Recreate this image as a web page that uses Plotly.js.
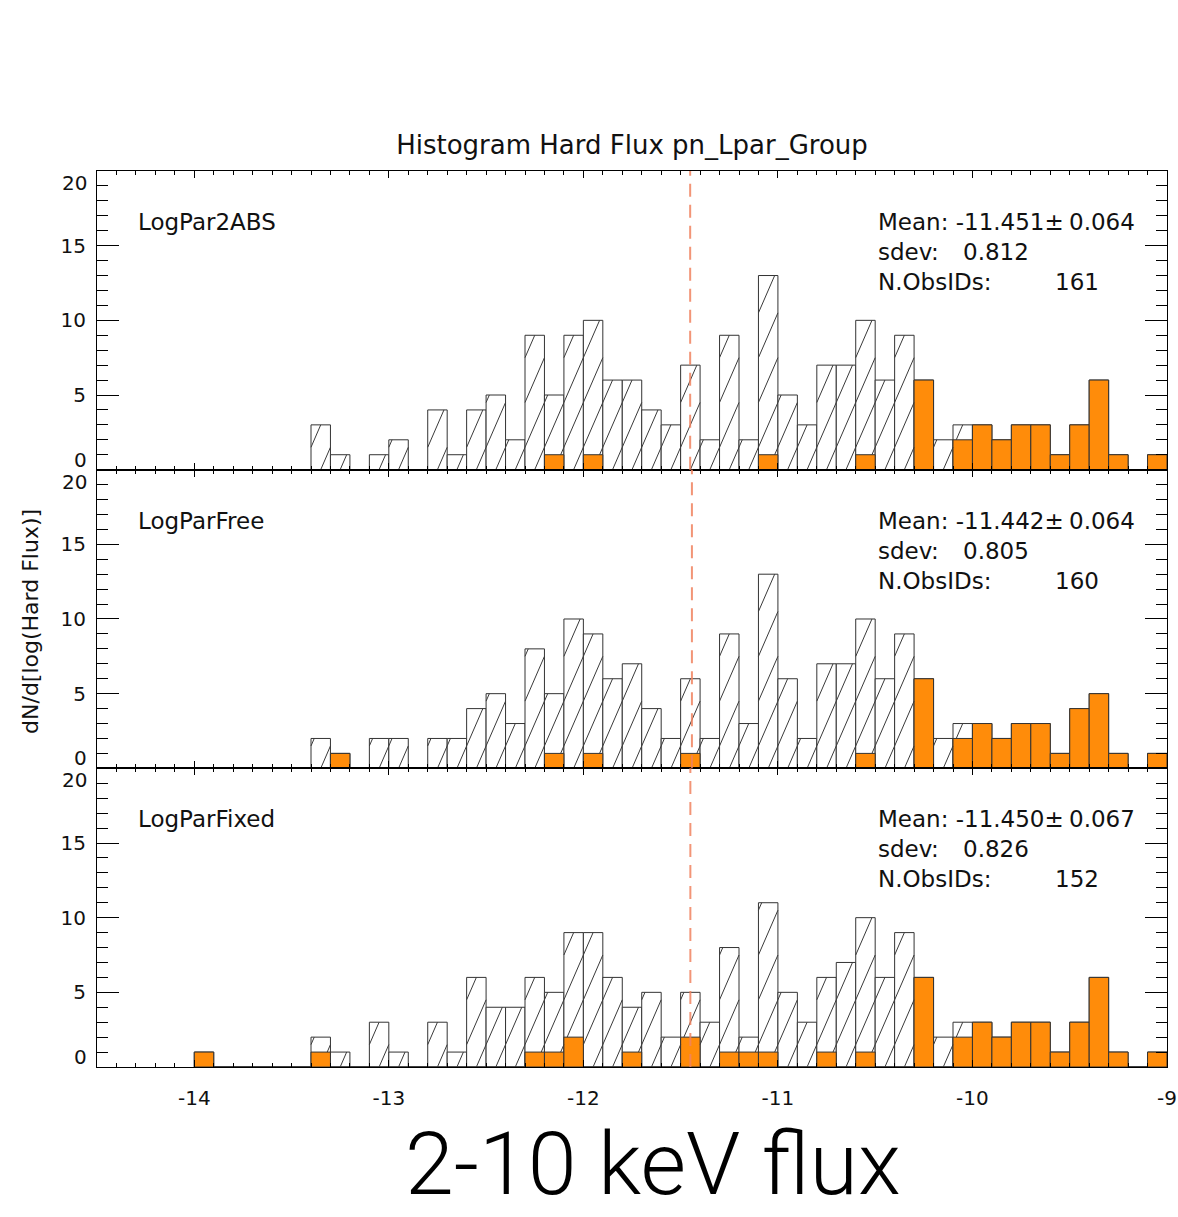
<!DOCTYPE html>
<html>
<head>
<meta charset="utf-8">
<script src="https://cdn.plot.ly/plotly-3.0.1.min.js"></script>
<style>
html,body{margin:0;padding:0;background:#fff;}
#chart{width:1178px;height:1217px;}
</style>
</head>
<body>
<div id="chart"></div>
<script>
// ---------------- DATA ----------------
const binCenters = [
  -13.95,-13.85,-13.75,-13.65,-13.55,-13.45,-13.35,-13.25,-13.15,-13.05,
  -12.95,-12.85,-12.75,-12.65,-12.55,-12.45,-12.35,-12.25,-12.15,-12.05,
  -11.95,-11.85,-11.75,-11.65,-11.55,-11.45,-11.35,-11.25,-11.15,-11.05,
  -10.95,-10.85,-10.75,-10.65,-10.55,-10.45,-10.35,-10.25,-10.15,-10.05,
  -9.95,-9.85,-9.75,-9.65,-9.55,-9.45,-9.35,-9.25,-9.15,-9.05
];

const panelNames = ['LogPar2ABS', 'LogParFree', 'LogParFixed'];

const totalLogPar2ABS = [
  0,0,0,0,0,0,3,1,0,1,
  2,0,4,1,4,5,2,9,5,9,
  10,6,6,4,3,7,2,9,2,13,
  5,3,7,7,10,6,9,6,2,3,
  3,2,3,3,1,3,6,1,0,1
];
const orangeLogPar2ABS = [
  0,0,0,0,0,0,0,0,0,0,
  0,0,0,0,0,0,0,0,1,0,
  1,0,0,0,0,0,0,0,0,1,
  0,0,0,0,1,0,0,6,0,2,
  3,2,3,3,1,3,6,1,0,1
];

const totalLogParFree = [
  0,0,0,0,0,0,2,1,0,2,
  2,0,2,2,4,5,3,8,5,10,
  9,6,7,4,2,6,2,9,3,13,
  6,2,7,7,10,6,9,6,2,3,
  3,2,3,3,1,4,5,1,0,1
];
const orangeLogParFree = [
  0,0,0,0,0,0,0,1,0,0,
  0,0,0,0,0,0,0,0,1,0,
  1,0,0,0,0,1,0,0,0,0,
  0,0,0,0,1,0,0,6,0,2,
  3,2,3,3,1,4,5,1,0,1
];

const totalLogParFixed = [
  1,0,0,0,0,0,2,1,0,3,
  1,0,3,1,6,4,4,6,5,9,
  9,6,4,5,2,5,3,8,2,11,
  5,3,6,7,10,6,9,6,2,3,
  3,2,3,3,1,3,6,1,0,1
];
const orangeLogParFixed = [
  1,0,0,0,0,0,1,0,0,0,
  0,0,0,0,0,0,0,1,1,2,
  0,0,1,0,0,2,0,1,1,1,
  0,0,1,0,1,0,0,6,0,2,
  3,2,3,3,1,3,6,1,0,1
];

const meanVals = [-11.451, -11.442, -11.450];
const meanErrs = [0.064, 0.064, 0.067];
const sdevVals = [0.812, 0.805, 0.826];
const nObsIDs  = [161, 160, 152];

const xTickVals = [-14, -13, -12, -11, -10, -9];
const xTickText = ['-14', '-13', '-12', '-11', '-10', '-9'];
const yTickVals = [0, 5, 10, 15, 20];
const yTickText = ['', '5', '10', '15', ''];
const yEndLabels = ['0', '20'];

// ---------------- STYLE ----------------
const BIN_WIDTH = 0.1;
const HATCH_RISE = 3.0;     // y-units a hatch line climbs across one bin
const HATCH_PHASE = -1.5;
const FONT = 'DejaVu Sans';
const TXT = '#111';
const ORANGE = '#FF8C0A';

const totals = [totalLogPar2ABS, totalLogParFree, totalLogParFixed];
const oranges = [orangeLogPar2ABS, orangeLogParFree, orangeLogParFixed];
const sfx = ['', '2', '3'];

function hatchTrace(tot, ora, xa, ya) {
  const xs = [], ys = [];
  binCenters.forEach((c, i) => {
    const lo = ora[i], hi = tot[i];
    if (hi <= lo) return;
    const xL = c - BIN_WIDTH / 2;
    let b = Math.floor((lo - HATCH_PHASE) / HATCH_RISE) * HATCH_RISE + HATCH_PHASE - HATCH_RISE;
    for (; b < hi; b += HATCH_RISE) {
      const t0 = Math.max(0, (lo - b) / HATCH_RISE);
      const t1 = Math.min(1, (hi - b) / HATCH_RISE);
      if (t1 <= t0) continue;
      xs.push(xL + BIN_WIDTH * t0, xL + BIN_WIDTH * t1, null);
      ys.push(b + HATCH_RISE * t0, b + HATCH_RISE * t1, null);
    }
  });
  return {type: 'scatter', mode: 'lines', x: xs, y: ys, xaxis: xa, yaxis: ya,
          line: {color: '#3a3a3a', width: 1}, hoverinfo: 'skip', showlegend: false, connectgaps: false};
}

const traces = [];
for (let p = 0; p < 3; p++) {
  const xa = 'x' + sfx[p], ya = 'y' + sfx[p];
  traces.push({type: 'bar', x: binCenters, y: totals[p], width: BIN_WIDTH, xaxis: xa, yaxis: ya,
    marker: {color: '#ffffff', line: {color: '#333', width: 1}}, showlegend: false, hoverinfo: 'skip'});
  traces.push({type: 'bar', x: binCenters, y: oranges[p], width: BIN_WIDTH, xaxis: xa, yaxis: ya,
    marker: {color: ORANGE, line: {color: '#333', width: 1}}, showlegend: false, hoverinfo: 'skip'});
  traces.push(hatchTrace(totals[p], oranges[p], xa, ya));
}

function xAxis(p, showLabels) {
  return {
    anchor: 'y' + sfx[p], domain: [0, 1], range: [-14.5, -9],
    tickmode: 'array', tickvals: xTickVals, ticktext: xTickText,
    ticks: 'inside', ticklen: 7, tickwidth: 1, tickcolor: '#000',
    minor: {tickmode: 'linear', tick0: -14, dtick: 0.1, ticks: 'inside', ticklen: 4, tickwidth: 1, tickcolor: '#000', showgrid: false},
    showline: true, linecolor: '#000', linewidth: 1, mirror: 'allticks',
    showgrid: false, zeroline: false, showticklabels: showLabels,
    tickfont: {family: FONT, size: 20, color: TXT}, ticklabelstandoff: 13,
    fixedrange: true
  };
}
function yAxis(p, dom) {
  return {
    anchor: 'x' + sfx[p], domain: dom, range: [0, 20],
    tickmode: 'array', tickvals: yTickVals, ticktext: yTickText,
    ticks: 'inside', ticklen: 22, tickwidth: 1, tickcolor: '#000',
    minor: {tickmode: 'linear', tick0: 0, dtick: 1, ticks: 'inside', ticklen: 11, tickwidth: 1, tickcolor: '#000', showgrid: false},
    showline: true, linecolor: '#000', linewidth: 1, mirror: 'allticks',
    showgrid: false, zeroline: false,
    tickfont: {family: FONT, size: 20, color: TXT}, ticklabelstandoff: 6,
    fixedrange: true
  };
}

const domains = [[2/3, 1], [1/3, 2/3], [0, 1/3]];
const layout = {
  width: 1178, height: 1217,
  margin: {l: 97, r: 11, t: 171, b: 150, pad: 0},
  paper_bgcolor: '#fff', plot_bgcolor: '#fff',
  barmode: 'overlay', bargap: 0, hovermode: false, showlegend: false,
  title: {text: 'Histogram Hard Flux pn_Lpar_Group', x: 0.5, xref: 'paper', xanchor: 'center',
          y: 1 - 145 / 1217, yref: 'container', yanchor: 'middle',
          font: {family: FONT, size: 26, color: TXT}},
  annotations: [], shapes: []
};
for (let p = 0; p < 3; p++) {
  layout['xaxis' + sfx[p]] = xAxis(p, p === 2);
  layout['yaxis' + sfx[p]] = yAxis(p, domains[p]);
  const yd = 'y' + sfx[p] + ' domain';
  const xd = 'x' + sfx[p] + ' domain';
  layout.shapes.push({type: 'line', xref: 'x' + sfx[p], yref: yd, x0: meanVals[p], x1: meanVals[p], y0: 0, y1: 1,
    line: {color: 'rgba(240,130,95,0.85)', width: 2, dash: '13px,8px'}, layer: 'above'});
  const f = {family: FONT, size: 23, color: TXT};
  const rowY = [1 - 51 / 298.7, 1 - 81 / 298.7, 1 - 111 / 298.7];
  const ann = (text, x, y, xanchor) => layout.annotations.push({text, xref: xd, yref: yd, x, y,
    xanchor, yanchor: 'middle', showarrow: false, font: f});
  ann(panelNames[p], 0.0364, rowY[0], 'left');
  ann('Mean: ' + meanVals[p].toFixed(3) + '±', 0.728, rowY[0], 'left');
  ann(meanErrs[p].toFixed(3), 0.972, rowY[0], 'right');
  ann('sdev:', 0.728, rowY[1], 'left');
  ann(sdevVals[p].toFixed(3), 0.8075, rowY[1], 'left');
  ann('N.ObsIDs:', 0.728, rowY[2], 'left');
  ann(String(nObsIDs[p]), 0.938, rowY[2], 'right');
  // end-of-axis y labels, shifted inward like the original
  layout.annotations.push({text: yEndLabels[0], xref: 'paper', yref: yd, x: -8 / 1070, y: 0, yshift: 10, height: 18,
    xanchor: 'right', yanchor: 'middle', showarrow: false, font: {family: FONT, size: 20, color: TXT}});
  layout.annotations.push({text: yEndLabels[1], xref: 'paper', yref: yd, x: -8 / 1070, y: 1, yshift: -12, height: 18,
    xanchor: 'right', yanchor: 'middle', showarrow: false, font: {family: FONT, size: 20, color: TXT}});
}
layout.annotations.push({text: 'dN/d[log(Hard Flux)]', xref: 'paper', yref: 'paper', x: (31 - 97) / 1070, y: 0.4967,
  xanchor: 'center', yanchor: 'middle', textangle: -90, showarrow: false, font: {family: FONT, size: 22, color: TXT}});
layout.annotations.push({text: '2-10 keV flux', xref: 'paper', yref: 'paper', x: (653 - 97) / 1070, y: (1067 - 1163) / 896,
  xanchor: 'center', yanchor: 'middle', showarrow: false,
  font: {family: 'Roboto', size: 88, weight: 300, color: '#000'}});

Plotly.newPlot('chart', traces, layout, {displayModeBar: false, staticPlot: true});
</script>
</body>
</html>
